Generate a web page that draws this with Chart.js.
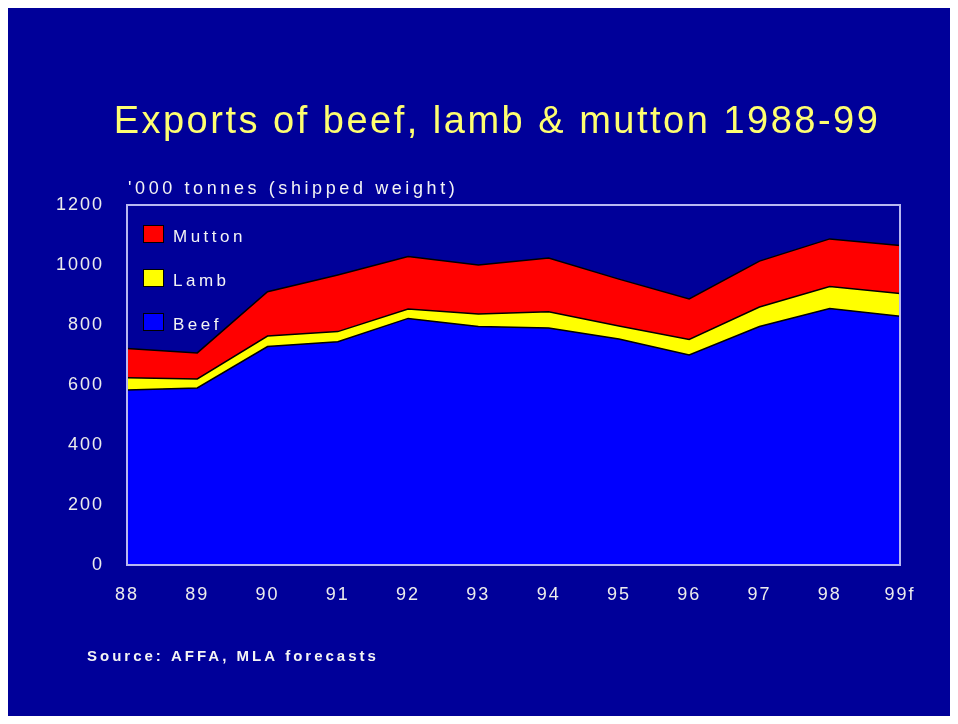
<!DOCTYPE html>
<html>
<head>
<meta charset="utf-8">
<title>Exports of beef, lamb &amp; mutton 1988-99</title>
<script src="https://cdn.jsdelivr.net/npm/chart.js@4.4.1/dist/chart.umd.min.js"></script>
<style>
  body { margin: 0; background: #fff; }
  canvas { display: block; }
</style>
</head>
<body>
<canvas id="chart" width="958" height="724"></canvas>
<script>
// '000 tonnes shipped weight
var years = ['88', '89', '90', '91', '92', '93', '94', '95', '96', '97', '98', '99f'];
var beef = [583, 590, 728, 744, 822, 795, 790, 753, 700, 795, 855, 829];
var lamb = [41, 30, 35, 34, 31, 42, 54, 44, 52, 65, 73, 76];
var mutton = [98, 87, 148, 189, 175, 163, 179, 156, 135, 153, 159, 160];
var yMin = 0, yMax = 1200, yStep = 200;

var FONT = "'Liberation Sans', Arial, sans-serif";

var slide = {
  id: 'slide',
  beforeDraw: function (chart) {
    var ctx = chart.ctx;
    ctx.save();
    ctx.fillStyle = '#ffffff';
    ctx.fillRect(0, 0, chart.width, chart.height);
    ctx.fillStyle = '#000099';
    ctx.fillRect(8, 8, chart.width - 16, chart.height - 16);
    ctx.restore();
    // wide bitmap-ish spacing for the tick labels
    ctx.letterSpacing = '2px';
  },
  afterDraw: function (chart) {
    var ctx = chart.ctx;
    var area = chart.chartArea;
    ctx.save();

    // plot frame
    ctx.strokeStyle = '#b8b8f0';
    ctx.lineWidth = 2;
    ctx.strokeRect(area.left, area.top, area.right - area.left, area.bottom - area.top);

    // title
    ctx.fillStyle = '#ffff70';
    ctx.font = '38px ' + FONT;
    ctx.letterSpacing = '2.5px';
    ctx.textAlign = 'center';
    ctx.textBaseline = 'alphabetic';
    ctx.fillText('Exports of beef, lamb & mutton 1988-99', 497, 133);

    // unit label
    ctx.fillStyle = '#f4f4f4';
    ctx.font = '18px ' + FONT;
    ctx.letterSpacing = '3.6px';
    ctx.textAlign = 'left';
    ctx.fillText("'000 tonnes (shipped weight)", 128, 194);

    // source
    ctx.font = 'bold 15px ' + FONT;
    ctx.letterSpacing = '3px';
    ctx.fillText('Source: AFFA, MLA forecasts', 87, 661);

    // legend inside plot, top series first
    var ds = chart.data.datasets;
    ctx.font = '17px ' + FONT;
    ctx.letterSpacing = '3.5px';
    for (var i = ds.length - 1, row = 0; i >= 0; i--, row++) {
      var y = 225 + row * 44;
      ctx.fillStyle = ds[i].backgroundColor;
      ctx.fillRect(143, y, 20, 17);
      ctx.strokeStyle = '#000000';
      ctx.lineWidth = 1;
      ctx.strokeRect(143.5, y + 0.5, 20, 17);
      ctx.fillStyle = '#f4f4f4';
      ctx.fillText(ds[i].label, 173, y + 17);
    }
    ctx.restore();
  }
};

new Chart(document.getElementById('chart'), {
  type: 'line',
  data: {
    labels: years,
    datasets: [
      { label: 'Beef', data: beef, backgroundColor: '#0000ff', fill: 'origin' },
      { label: 'Lamb', data: lamb, backgroundColor: '#ffff00', fill: '-1' },
      { label: 'Mutton', data: mutton, backgroundColor: '#ff0000', fill: '-1' }
    ]
  },
  options: {
    responsive: false,
    animation: false,
    layout: { padding: { left: 0, top: 205, right: 58, bottom: 119 } },
    elements: {
      line: { borderColor: '#000000', borderWidth: 1.5, tension: 0 },
      point: { radius: 0 }
    },
    plugins: {
      legend: { display: false },
      title: { display: false },
      tooltip: { enabled: false }
    },
    scales: {
      x: {
        offset: false,
        grid: { display: false, drawTicks: false },
        border: { display: false },
        ticks: { color: '#ececec', font: { family: FONT, size: 18 }, padding: 19, maxRotation: 0, autoSkip: false },
        afterFit: function (s) { s.height = 40; }
      },
      y: {
        stacked: true,
        min: yMin,
        max: yMax,
        grid: { display: false, drawTicks: false },
        border: { display: false },
        ticks: {
          stepSize: yStep, color: '#ececec', font: { family: FONT, size: 18 }, padding: 23,
          callback: function (v) { return String(v); }
        },
        afterFit: function (s) { s.width = 127; }
      }
    }
  },
  plugins: [slide]
});
</script>
</body>
</html>
